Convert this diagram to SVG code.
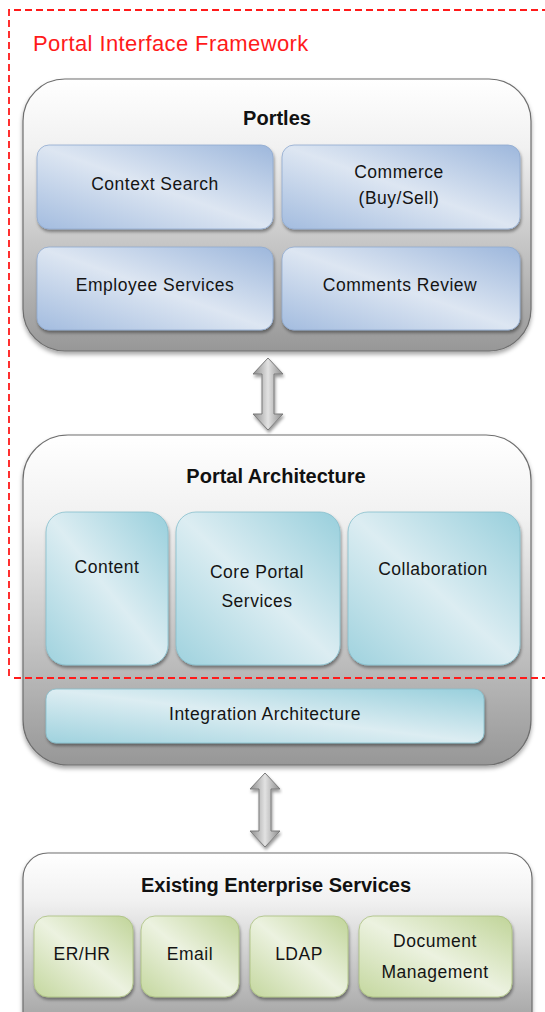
<svg xmlns="http://www.w3.org/2000/svg" width="545" height="1012" viewBox="0 0 545 1012">
<style>
.lbl{font-family:"Liberation Sans",Arial,sans-serif;font-size:17.5px;fill:#141414;text-anchor:middle;letter-spacing:0.5px}
.ttl{font-family:"Liberation Sans",Arial,sans-serif;font-size:20px;font-weight:bold;fill:#111;text-anchor:middle}
.outer{stroke:#6e6e6e;stroke-width:1.2;fill:url(#gOuter)}
.blue{fill:url(#gBlue);stroke:#8fa9cf;stroke-width:0.8}
.teal{fill:url(#gTeal);stroke:#86bfcd;stroke-width:0.8}
.green{fill:url(#gGreen);stroke:#a9bf7f;stroke-width:0.8}
.arrow{fill:url(#gArrow);stroke:#7a7a7a;stroke-width:1}
.frame{fill:none;stroke:#ff1a1a;stroke-width:1.8;stroke-dasharray:7,4}
</style>
<defs>
<linearGradient id="gOuter" x1="0" y1="0" x2="0" y2="1">
<stop offset="0" stop-color="#ffffff"/>
<stop offset="0.25" stop-color="#f1f1f1"/>
<stop offset="1" stop-color="#979797"/>
</linearGradient>
<linearGradient id="gBlue" x1="0" y1="1" x2="1" y2="0">
<stop offset="0" stop-color="#a3bcdf"/>
<stop offset="0.5" stop-color="#dde6f2"/>
<stop offset="1" stop-color="#9db7dc"/>
</linearGradient>
<linearGradient id="gTeal" x1="0" y1="1" x2="1" y2="0">
<stop offset="0" stop-color="#9fd2de"/>
<stop offset="0.5" stop-color="#dcedf2"/>
<stop offset="1" stop-color="#98cfdc"/>
</linearGradient>
<linearGradient id="gGreen" x1="0" y1="1" x2="1" y2="0">
<stop offset="0" stop-color="#c4d79e"/>
<stop offset="0.5" stop-color="#ecf2e0"/>
<stop offset="1" stop-color="#c0d498"/>
</linearGradient>
<linearGradient id="gArrow" x1="0" y1="0" x2="1" y2="0">
<stop offset="0" stop-color="#8c8c8c"/>
<stop offset="0.5" stop-color="#e2e2e2"/>
<stop offset="1" stop-color="#8c8c8c"/>
</linearGradient>
<filter id="sh" x="-10%" y="-10%" width="120%" height="130%">
<feDropShadow dx="0" dy="3" stdDeviation="2" flood-color="#000" flood-opacity="0.35"/>
</filter>
<filter id="sh2" x="-10%" y="-10%" width="120%" height="130%">
<feDropShadow dx="1" dy="2.5" stdDeviation="1.5" flood-color="#000" flood-opacity="0.4"/>
</filter>
</defs>

<g id="portles">
<rect class="outer" x="23" y="79" width="508" height="272" rx="42" filter="url(#sh)"/>
<text class="ttl" x="277" y="125">Portles</text>
</g>
<g id="context-search">
<rect class="blue" x="37" y="145" width="236" height="84" rx="12" filter="url(#sh2)"/>
<text class="lbl" x="155" y="190">Context Search</text>
</g>
<g id="commerce">
<rect class="blue" x="282" y="145" width="238" height="84" rx="12" filter="url(#sh2)"/>
<text class="lbl" x="399" y="178">Commerce</text>
<text class="lbl" x="399" y="204">(Buy/Sell)</text>
</g>
<g id="employee-services">
<rect class="blue" x="37" y="247" width="236" height="83" rx="12" filter="url(#sh2)"/>
<text class="lbl" x="155" y="291">Employee Services</text>
</g>
<g id="comments-review">
<rect class="blue" x="282" y="247" width="238" height="83" rx="12" filter="url(#sh2)"/>
<text class="lbl" x="400" y="291">Comments Review</text>
</g>

<g id="portal-architecture">
<rect class="outer" x="23" y="435" width="508" height="330" rx="45" filter="url(#sh)"/>
<text class="ttl" x="276" y="483">Portal Architecture</text>
</g>
<g id="content">
<rect class="teal" x="46" y="512" width="122" height="153" rx="20" filter="url(#sh2)"/>
<text class="lbl" x="107" y="573">Content</text>
</g>
<g id="core-portal-services">
<rect class="teal" x="176" y="512" width="164" height="153" rx="20" filter="url(#sh2)"/>
<text class="lbl" x="257" y="578">Core Portal</text>
<text class="lbl" x="257" y="607">Services</text>
</g>
<g id="collaboration">
<rect class="teal" x="348" y="512" width="172" height="153" rx="20" filter="url(#sh2)"/>
<text class="lbl" x="433" y="575">Collaboration</text>
</g>
<g id="integration-architecture">
<rect class="teal" x="46" y="689" width="438" height="54" rx="10" filter="url(#sh2)"/>
<text class="lbl" x="265" y="720">Integration Architecture</text>
</g>

<g id="existing-enterprise-services">
<rect class="outer" x="23" y="853" width="509" height="190" rx="25" filter="url(#sh)"/>
<text class="ttl" x="276" y="892">Existing Enterprise Services</text>
</g>
<g id="er-hr">
<rect class="green" x="34" y="916" width="99" height="81" rx="14" filter="url(#sh2)"/>
<text class="lbl" x="82" y="960">ER/HR</text>
</g>
<g id="email">
<rect class="green" x="141" y="916" width="98" height="81" rx="14" filter="url(#sh2)"/>
<text class="lbl" x="190" y="960">Email</text>
</g>
<g id="ldap">
<rect class="green" x="250" y="916" width="98" height="81" rx="14" filter="url(#sh2)"/>
<text class="lbl" x="299" y="960">LDAP</text>
</g>
<g id="document-management">
<rect class="green" x="359" y="916" width="153" height="81" rx="14" filter="url(#sh2)"/>
<text class="lbl" x="435" y="947">Document</text>
<text class="lbl" x="435" y="978">Management</text>
</g>

<g id="connectors">
<path class="arrow" filter="url(#sh2)" d="M268,358 L283,374 L274,374 L274,414 L283,414 L268,430 L253,414 L262,414 L262,374 L253,374 Z"/>
<path class="arrow" filter="url(#sh2)" d="M265,773 L280,789 L271,789 L271,831 L280,831 L265,847 L250,831 L259,831 L259,789 L250,789 Z"/>
</g>

<g id="portal-interface-framework">
<path class="frame" d="M9,676 L9,10 L545,10"/>
<path class="frame" d="M14,678 L545,678"/>
<text x="33" y="51" style="font-family:'Liberation Sans',Arial,sans-serif;font-size:22px;fill:#ff1a1a;letter-spacing:0.4px">Portal Interface Framework</text>
</g>
</svg>
